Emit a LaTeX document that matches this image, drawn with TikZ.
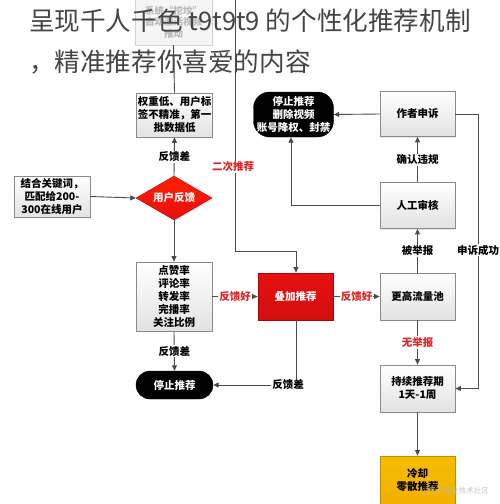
\documentclass[tikz,border=0pt]{standalone}
\usepackage{fontspec}
\setmainfont{Noto Sans CJK SC}
\newfontfamily\cjktitle{Noto Sans CJK SC}
\usetikzlibrary{shapes.geometric,arrows.meta,shadows}
\definecolor{linegray}{HTML}{4A4A4A}
\definecolor{boxborder}{HTML}{8A8A8A}
\definecolor{boxbottom}{HTML}{E2E2E2}
\definecolor{redtext}{HTML}{E02424}
\definecolor{redfill}{HTML}{E81010}
\definecolor{redborder}{HTML}{B00000}
\definecolor{yellowfill}{HTML}{F2B100}
\definecolor{yellowborder}{HTML}{C58A00}
\definecolor{titlegray}{HTML}{444444}
\newcommand\boxfont{\fontsize{10.5}{13}\selectfont\bfseries}
\newcommand\lblfont{\fontsize{10.5}{12}\selectfont\bfseries}
\tikzset{
  box/.style={draw=boxborder, line width=0.8pt, top color=white, bottom color=boxbottom,
    minimum width=75pt, minimum height=46pt, inner sep=1pt, align=center, font=\boxfont,
    text=black, drop shadow={opacity=0.2, shadow xshift=1pt, shadow yshift=-1pt}},
  blackpill/.style={draw=black, fill=black, text=white, rounded corners=14pt,
    align=center, font=\boxfont, inner sep=1pt},
  conn/.style={draw=linegray, line width=0.9pt, -{Triangle[length=5.5pt,width=5pt]}},
  plain/.style={draw=linegray, line width=0.9pt},
  lbl/.style={fill=white, inner sep=1pt, font=\lblfont, text=black},
  rlbl/.style={lbl, text=redtext},
}
\begin{document}
\begin{tikzpicture}[x=1pt,y=-1pt]
\useasboundingbox (0,0) rectangle (500,504);
\fill[white] (0,0) rectangle (500,504);

% faded top box
\node[draw=gray!35, fill=gray!8, text=gray!55, minimum width=77pt, minimum height=46pt,
  align=center, inner sep=1pt, font=\fontsize{9.5}{11.5}\selectfont\bfseries] (top) at (173.5,22)
  {系统“挖坟”\\自动激活视频\\推动};

% nodes
\node[box, minimum height=44pt] (w) at (174.5,115) {权重低、用户标\\签不精准，第一\\批数据低};
\node[box, minimum width=76pt, minimum height=41pt] (kw) at (52,196.5) {结合关键词，\\匹配给200-\\300在线用户};
\node[diamond, aspect=1.73, minimum width=76pt, minimum height=44pt, inner sep=0pt,
  draw=redborder, top color=red!75!orange, bottom color=redfill, text=white, font=\boxfont,
  drop shadow={opacity=0.2, shadow xshift=1pt, shadow yshift=-1pt}] (d) at (174,198) {用户反馈};
\node[box, minimum width=76pt, minimum height=69pt] (m) at (174,296.5) {点赞率\\评论率\\转发率\\完播率\\关注比例};
\node[box, draw=redborder, top color=redfill, bottom color=redfill!90!black, text=white, minimum height=47pt] (ov) at (295.5,296.5) {叠加推荐};
\node[box, minimum height=47pt] (hp) at (417.5,296.5) {更高流量池};
\node[box, minimum height=47pt] (cp) at (417.5,388.5) {持续推荐期\\1天-1周};
\node[box, draw=yellowborder, top color=yellowfill!85!yellow, bottom color=yellowfill, minimum height=48pt] (cool) at (417.5,480) {冷却\\零散推荐};
\node[box, minimum height=46pt] (rev) at (417.5,205.5) {人工审核};
\node[box, minimum height=45pt] (app) at (417.5,114) {作者申诉};
\node[blackpill, minimum width=80pt, minimum height=45pt, rounded corners=16pt] (stop1) at (293.5,114.5) {停止推荐\\删除视频\\账号降权、封禁};
\node[blackpill, minimum width=77pt, minimum height=28pt] (stop2) at (174.5,385) {停止推荐};

% title (drawn over the faded box)
\node[anchor=west, inner sep=0pt, text=titlegray, font=\cjktitle\fontsize{25.6}{30}\selectfont] (title1) at (29,21) {呈现千人千色 t9t9t9 的个性化推荐机制};
\node[anchor=west, inner sep=0pt, text=titlegray, font=\cjktitle\fontsize{25.6}{30}\selectfont] (title2) at (29,62) {，精准推荐你喜爱的内容};

% connectors
\draw[plain] (top.south) -- (w.north);
\coordinate (s0) at (235,0);
\coordinate (s1) at (235,251);
\coordinate (s2) at (296,251);
\draw[conn] (s0) -- (s1) -- (s2) -- (s2 |- ov.north);
\node[rlbl] (l2c) at (233,167) {二次推荐};

\draw[conn] (d.north) -- (w.south) node[lbl, midway] (lfb1) {反馈差};
\draw[conn] (kw.east) -- (d.west);
\draw[conn] (d.south) -- (m.north);
\draw[conn] (m.east) -- (ov.west) node[rlbl, midway] (lg1) {反馈好};
\draw[conn] (ov.east) -- (hp.west) node[rlbl, midway] (lg2) {反馈好};
\draw[conn] (hp.south) -- (cp.north) node[rlbl, midway] (lnr) {无举报};
\draw[conn] (cp.south) -- (cool.north);
\draw[conn] (hp.north) -- (rev.south) node[lbl, midway] (lrep) {被举报};
\draw[conn] (rev.north) -- (app.south) node[lbl, midway] (lcv) {确认违规};
\draw[conn] (app.west) -- (stop1.east);
\coordinate (r1) at (291,205.5);
\draw[conn] (rev.west) -- (r1) -- (r1 |- stop1.south);
\coordinate (a1) at (478,114);
\coordinate (a2) at (478,388.5);
\draw[conn] (app.east) -- (a1) -- (a2) -- (cp.east);
\node[lbl] (lsu) at (478,250) {申诉成功};
\coordinate (o1) at (296,385);
\draw[conn] (ov.south -| o1) -- (o1) -- (stop2.east);
\node[lbl] (lfb3) at (288,385) {反馈差};
\draw[conn] (m.south) -- (stop2.north) node[lbl, midway] (lfb2) {反馈差};

% watermark
\node[anchor=east, inner sep=0pt, text=gray!55, opacity=0.8, font=\fontsize{7.5}{9}\selectfont] (wm) at (489,491) {@稀土掘金技术社区};
\end{tikzpicture}
\end{document}
